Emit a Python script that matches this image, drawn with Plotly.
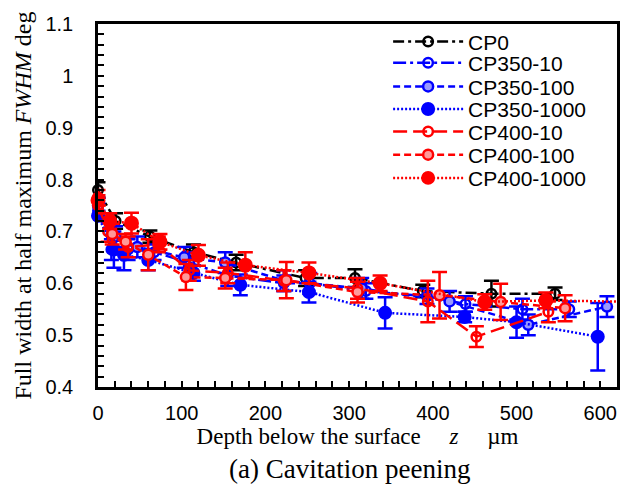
import plotly.graph_objects as go

# ---- data ----
cp0_x = [0, 21, 62, 114, 165, 248, 307, 388, 470, 546]
cp0_y = [0.78, 0.72, 0.69, 0.66, 0.64, 0.61, 0.61, 0.585, 0.58, 0.58]
cp0_e = [0.015, 0.015, 0.012, 0.015, 0.015, 0.015, 0.017, 0.012, 0.025, 0.012]

cp350_10_x = [0, 16, 36, 67, 109, 155, 222, 253, 320, 393, 439, 507, 563]
cp350_10_y = [0.74, 0.665, 0.665, 0.66, 0.64, 0.615, 0.60, 0.60, 0.585, 0.575, 0.56, 0.55, 0.55]
cp350_10_e = [0.015, 0.02, 0.02, 0.015, 0.02, 0.02, 0.015, 0.02, 0.015, 0.015, 0.015, 0.02, 0.015]

cp350_100_x = [0, 21, 47, 103, 152, 222, 315, 420, 514, 608]
cp350_100_y = [0.75, 0.69, 0.67, 0.65, 0.64, 0.605, 0.59, 0.565, 0.52, 0.555]
cp350_100_e = [0.015, 0.02, 0.02, 0.02, 0.02, 0.02, 0.02, 0.02, 0.02, 0.02]

cp350_1000_x = [0, 19, 31, 60, 114, 170, 252, 343, 438, 500, 597]
cp350_1000_y = [0.73, 0.665, 0.655, 0.645, 0.62, 0.597, 0.583, 0.543, 0.535, 0.525, 0.497]
cp350_1000_e = [0.01, 0.035, 0.03, 0.02, 0.015, 0.02, 0.02, 0.03, 0.01, 0.03, 0.065]

cp400_10_x = [0, 12, 36, 72, 109, 155, 222, 310, 394, 452, 538]
cp400_10_y = [0.75, 0.70, 0.67, 0.675, 0.625, 0.62, 0.605, 0.59, 0.565, 0.497, 0.545]
cp400_10_e = [0.015, 0.02, 0.02, 0.015, 0.02, 0.02, 0.02, 0.02, 0.04, 0.02, 0.02]

cp400_100_x = [0, 17, 33, 60, 105, 152, 225, 310, 408, 481, 558]
cp400_100_y = [0.765, 0.695, 0.68, 0.655, 0.612, 0.61, 0.606, 0.583, 0.577, 0.564, 0.552]
cp400_100_e = [0.015, 0.02, 0.015, 0.03, 0.025, 0.02, 0.035, 0.02, 0.045, 0.035, 0.025]

# last point lies beyond the axis maximum (only its line segment is visible)
cp400_1000_x = [0, 14, 40, 74, 120, 176, 252, 337, 462, 535, 680]
cp400_1000_y = [0.76, 0.72, 0.716, 0.68, 0.654, 0.635, 0.62, 0.60, 0.564, 0.567, 0.563]
cp400_1000_e = [0.01, 0.015, 0.02, 0.015, 0.02, 0.025, 0.02, 0.015, 0.015, 0.015, None]

X_MAX = 620

series = [
    ("CP0", cp0_x, cp0_y, cp0_e, "black", "11px,4px,3px,4px", "circle-open", "black", 9.5),
    ("CP350-10", cp350_10_x, cp350_10_y, cp350_10_e, "#0000ff", "13px,4px,3px,4px", "circle-open", "#0000ff", 9.5),
    ("CP350-100", cp350_100_x, cp350_100_y, cp350_100_e, "#0000ff", "7px,4px", "circle", "#9999ff", 10),
    ("CP350-1000", cp350_1000_x, cp350_1000_y, cp350_1000_e, "#0000ff", "2px,2px", "circle", "#0000ff", 11.5),
    ("CP400-10", cp400_10_x, cp400_10_y, cp400_10_e, "#ff0000", "14px,6px", "circle-open", "#ff0000", 9.5),
    ("CP400-100", cp400_100_x, cp400_100_y, cp400_100_e, "#ff0000", "7px,4px", "circle", "#ff9999", 10),
    ("CP400-1000", cp400_1000_x, cp400_1000_y, cp400_1000_e, "#ff0000", "2px,2px", "circle", "#ff0000", 12.5),
]

# legend row centres (paper y) for one-entry legends
legend_rows = [0.951, 0.892, 0.827, 0.765, 0.703, 0.639, 0.575]

fig = go.Figure()
legend_layout = {}
for i, (name, xs, ys, es, col, dash, sym, fill, size) in enumerate(series):
    sizes = [size if x <= X_MAX else 0 for x in xs]
    if sym == "circle-open":
        marker = dict(symbol=sym, size=sizes, color=col, opacity=1, line=dict(width=2.5, color=col))
    else:
        marker = dict(symbol=sym, size=sizes, color=fill, opacity=1, line=dict(width=2.5, color=col))
    lg = "legend" if i == 0 else f"legend{i + 1}"
    fig.add_trace(go.Scatter(
        x=xs, y=ys, name=name, mode="lines+markers", legend=lg, cliponaxis=False,
        line=dict(color=col, width=2.5, dash=dash),
        marker=marker,
        error_y=dict(type="data", array=es, visible=True, color=col, thickness=2.5, width=7.5),
    ))
    legend_layout[lg] = dict(
        x=0.559, y=legend_rows[i], xanchor="left", yanchor="middle",
        font=dict(family="Arial, Liberation Sans", size=21, color="black"),
        bgcolor="rgba(255,255,255,0)", itemwidth=70, borderwidth=0,
    )

axis_font = dict(family="Arial, Liberation Sans", size=20, color="black")
fig.update_layout(
    width=641, height=499,
    margin=dict(l=98, r=24, t=24, b=112),
    paper_bgcolor="white", plot_bgcolor="white",
    showlegend=True,
    xaxis=dict(range=[0, X_MAX], tickvals=[0, 100, 200, 300, 400, 500, 600],
               ticks="inside", ticklen=6, tickwidth=2, tickcolor="black",
               minor=dict(dtick=20, ticks="inside", ticklen=6, tickwidth=2, tickcolor="black"),
               showline=True, linewidth=2.5, linecolor="black", mirror=True,
               showgrid=False, zeroline=False, tickfont=axis_font, ticklabelstandoff=6,
               title=dict(text="Depth below the surface\u2003 <i>z</i> \u2003\u00b5m",
                          font=dict(family="Times New Roman, Liberation Serif", size=23, color="black"),
                          standoff=6)),
    yaxis=dict(range=[0.4, 1.1], tickvals=[0.4, 0.5, 0.6, 0.7, 0.8, 0.9, 1.0, 1.1],
               ticktext=["0.4", "0.5", "0.6", "0.7", "0.8", "0.9", "1", "1.1"],
               ticks="inside", ticklen=6, tickwidth=2, tickcolor="black",
               minor=dict(dtick=0.02, ticks="inside", ticklen=6, tickwidth=2, tickcolor="black"),
               showline=True, linewidth=2.5, linecolor="black", mirror=True,
               showgrid=False, zeroline=False, tickfont=axis_font, ticklabelstandoff=18,
               title=dict(text="Full width at half maximum <i>FWHM</i> deg",
                          font=dict(family="Times New Roman, Liberation Serif", size=24, color="black"),
                          standoff=8)),
    annotations=[dict(text="(a) Cavitation peening", xref="paper", yref="paper",
                      x=0.485, y=-0.225, xanchor="center", yanchor="middle", showarrow=False,
                      font=dict(family="Times New Roman, Liberation Serif", size=27, color="black"))],
    **legend_layout,
)
fig.write_html("out.html")
